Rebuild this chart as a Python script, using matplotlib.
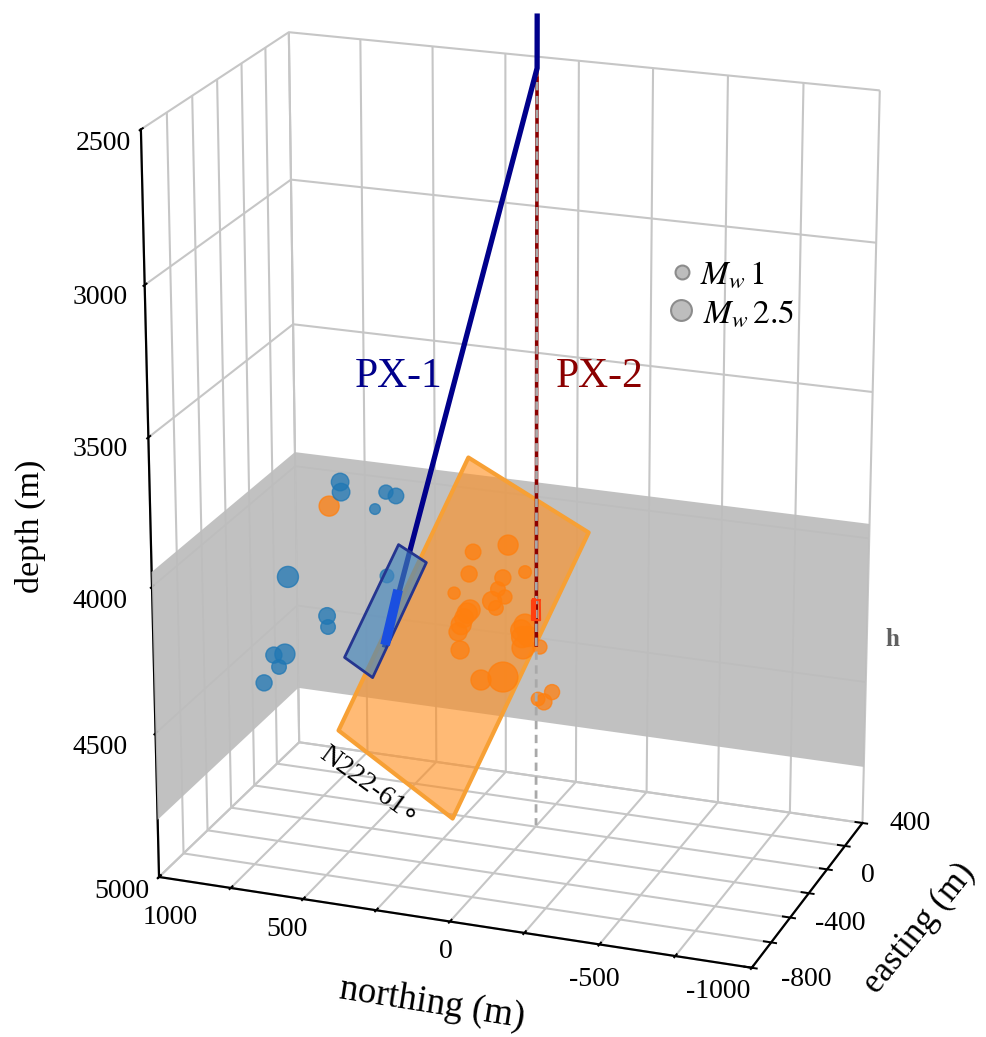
import numpy as np
import matplotlib
matplotlib.use('Agg')
import matplotlib.pyplot as plt
from matplotlib.lines import Line2D
from mpl_toolkits.mplot3d.art3d import Poly3DCollection

plt.rcParams['font.family'] = ['Liberation Serif', 'DejaVu Sans']
plt.rcParams['mathtext.fontset'] = 'stix'

# Data
northing_ticks = [1000, 750, 500, 250, 0, -250, -500, -750, -1000]
easting_ticks = [-800, -600, -400, -200, 0, 200, 400]
depth_ticks = [2500, 3000, 3500, 4000, 4500, 5000]

# events: northing, depth, magnitude (easting is constant per group)
blue_n = [718, 715, 557, 522, 596, 908, 556, 770, 767, 923, 963, 945, 1000]
blue_d = [3919, 3954, 3934, 3943, 3998, 4277, 4227, 4397, 4436, 4554, 4563, 4603, 4668]
blue_m = [1.6, 1.6, 0.9, 1.2, 0.2, 2.3, 0.8, 1.4, 1.0, 2.1, 1.3, 1.0, 1.3]
blue_e = 100

orange_n = [677, 59, 179, 193, 1, 77, 245, 94, 70, 114, 101, 190, 211, 232, 225, 1, 11, 8, -50, 153, 77, -92, -44, -64,
            14, -10, 200, 221]
orange_d = [3929, 3984, 4023, 4101, 4069, 4099, 4174, 4140, 4164, 4184, 4206, 4225, 4256, 4307, 4369, 4252, 4295, 4332, 4321, 4464, 4443, 4472, 4503, 4510,
            4272, 4290, 4237, 4280]
orange_m = [2.1, 2.1, 1.2, 1.3, 0.6, 1.3, 0.5, 1.0, 0.9, 1.9, 1.0, 2.1, 1.8, 1.7, 1.7, 2.5, 2.3, 2.5, 0.9, 2.1, 4.1, 1.1, 0.8, 1.3,
            2.3, 2.1, 2.1, 2.1]
orange_e = -100

# well head and trajectories
well_n, well_e = 3, 13
top_d = 2255
kink_d = 2423
px1_bottom = (496, -75, 4398)
px1_open = (449, -75, 4199)

# fracture planes (northing, easting, depth)
orange_plane = [(308, 200, 3815), (-317, -400, 3786), (142, -400, 4828), (776, 200, 4845)]
blue_plane = [(477, 0, 4070), (323, -150, 4059), (513, -150, 4485), (671, 0, 4492)]

band_top = 3950
band_bottom = 4800

# labels, pixel positions of text
x_labels = [('1000', 170, 917), ('500', 287, 930), ('0', 446, 952), ('-500', 594, 980), ('-1000', 718, 992)]
y_labels = [('400', 910, 824), ('0', 868, 875), ('-400', 840, 924), ('-800', 806, 980)]
z_labels = [('2500', 103, 144), ('3000', 100, 297), ('3500', 100, 450), ('4000', 100, 602), ('4500', 100, 747), ('5000', 122, 892)]

W, H = 987, 1037


def ptext(x, y, s, **kw):
    kw.setdefault('ha', 'center')
    kw.setdefault('va', 'center')
    return fig.text(x / W, 1 - y / H, s, **kw)


def mag_size(m):
    # radius in px grows linearly with magnitude
    r = 7.3 + (np.asarray(m) - 1) * 2.47
    return (2 * r * 0.72) ** 2


fig = plt.figure(figsize=(W / 100, H / 100), dpi=100)
ax = fig.add_axes([-21.7 / W, 11.78 / H, 1044.67 / W, 1044.67 / H], projection='3d', computed_zorder=False)
ax.set_xlim(1000, -1000, view_margin=0)
ax.set_ylim(-800, 400, view_margin=0)
ax.set_zlim(5000, 2500, view_margin=0)
ax.view_init(elev=20.09, azim=-69.92)
ax.set_proj_type('persp', focal_length=0.975)
ax.set_box_aspect((1, 0.5963, 1.25))

ax.set_xticks(northing_ticks)
ax.set_yticks(easting_ticks)
ax.set_zticks(depth_ticks)
ax.set_xticklabels([])
ax.set_yticklabels([])
ax.set_zticklabels([])
ax.zaxis.set_ticks_position('lower')

for a in (ax.xaxis, ax.yaxis, ax.zaxis):
    a.set_pane_color((1, 1, 1, 0))
    a.pane.set_edgecolor((1, 1, 1, 0))
    a.line.set_color('k')
    a.line.set_linewidth(1.6)
    a._axinfo['grid'].update(color='#c6c6c6', linewidth=1.5)
    a._axinfo['tick'].update(inward_factor=0.1, outward_factor=0.15, linewidth={True: 1.4, False: 1.0})

# shaded reservoir band on the two back walls
xa, xb = 1000, -1000
ya, yb = -800, 400
band = [[(xa, ya, band_top), (xa, yb, band_top), (xa, yb, band_bottom), (xa, ya, band_bottom)],
        [(xa, yb, band_top), (xb, yb, band_top), (xb, yb, band_bottom), (xa, yb, band_bottom)]]
ax.add_collection3d(Poly3DCollection(band, facecolors=(0.74, 0.74, 0.74, 0.93), edgecolors='none', zorder=1))

ax.add_collection3d(Poly3DCollection([orange_plane], facecolors=(1.0, 0.55, 0.10, 0.6),
                                     edgecolors='#f7a035', linewidths=3, zorder=2))

ax.scatter(orange_n, [orange_e] * len(orange_n), orange_d, s=mag_size(orange_m), c='#ff7f0e', alpha=0.75,
           depthshade=False, zorder=3)
ax.scatter(blue_n, [blue_e] * len(blue_n), blue_d, s=mag_size(blue_m), c='#1f77b4', alpha=0.75,
           depthshade=False, zorder=3)

# PX-2
ax.plot([well_n, well_n], [well_e, well_e], [kink_d, 4363], color='#8b0000', lw=2.6, zorder=4)
ax.plot([well_n, well_n], [well_e, well_e], [kink_d, 5000], color='#a9a9a9', lw=2, ls=(0, (3, 2)), zorder=4.1)
ax.plot([11, 11], [well_e, well_e], [4208, 4270], color='#ff4010', lw=3, zorder=4.2)
ax.plot([-9, -10, 18, 18, -9], [well_e] * 5, [4205, 4275, 4278, 4209, 4205], color='#ff4010', lw=1.5, zorder=4.2)

# PX-1
ax.plot([well_n, well_n, px1_bottom[0]], [well_e, well_e, px1_bottom[1]], [top_d, kink_d, px1_bottom[2]],
        color='#00008b', lw=3.8, zorder=4.5)
ax.add_collection3d(Poly3DCollection([blue_plane], facecolors=(0.27, 0.53, 0.74, 0.65),
                                     edgecolors='#25358f', linewidths=2, zorder=5))
ax.plot([px1_open[0], px1_bottom[0]], [px1_open[1], px1_bottom[1]], [px1_open[2], px1_bottom[2]],
        color='#1a4fe0', lw=7, solid_capstyle='butt', zorder=6)

# text
for s, x, y in x_labels + y_labels + z_labels:
    ptext(x, y, s, fontsize=20)
ptext(30, 526, 'depth (m)', fontsize=24.5, rotation=90)
ptext(432, 1004, 'northing (m)', fontsize=26.5, rotation=-9)
ptext(920, 928, 'easting (m)', fontsize=25, rotation=51)
ptext(399, 377, 'PX-1', fontsize=30, color='#00008b')
ptext(600, 377, 'PX-2', fontsize=30, color='#8b0000')
ptext(892, 640, 'h', fontsize=18, fontweight='bold', color='#606060')
ptext(369, 786, 'N222-61\u2218', fontsize=20, rotation=-36)

# magnitude legend
fig.add_artist(Line2D([682 / W], [1 - 272 / H], marker='o', ms=10, mfc='#bdbdbd', mec='#8c8c8c', mew=1.5,
                      transform=fig.transFigure))
fig.add_artist(Line2D([681 / W], [1 - 310 / H], marker='o', ms=15, mfc='#bdbdbd', mec='#8c8c8c', mew=1.5,
                      transform=fig.transFigure))
ptext(700, 275, r'$M_w\,\mathrm{1}$', fontsize=24, ha='left')
ptext(703, 314, r'$M_w\,\mathrm{2.5}$', fontsize=24, ha='left')

fig.savefig('out.png', dpi=100)
